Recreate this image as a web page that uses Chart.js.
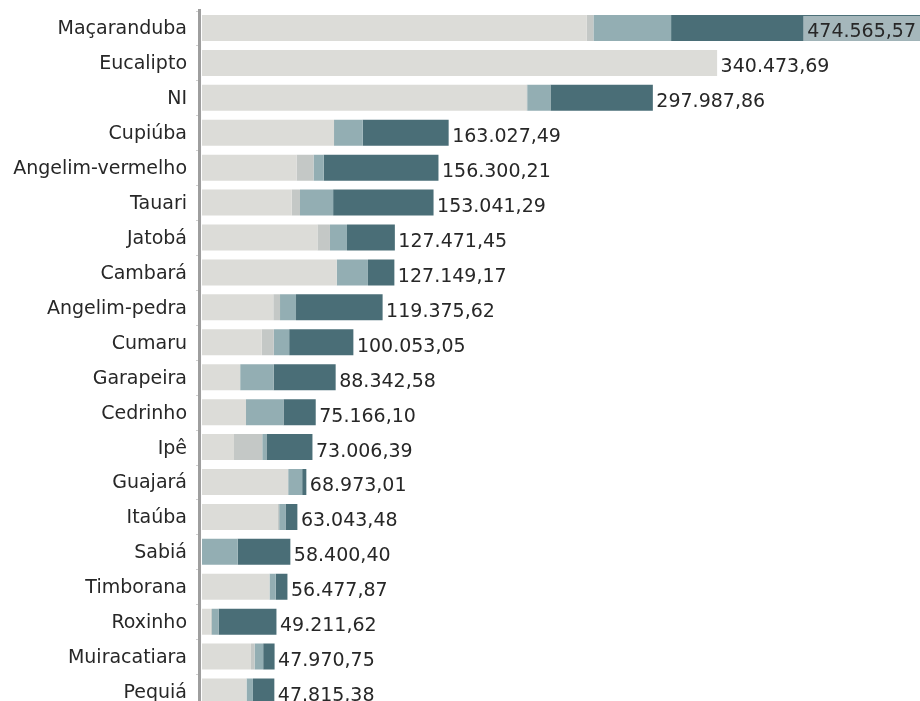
<!DOCTYPE html>
<html>
<head>
<meta charset="utf-8">
<script src="https://cdn.jsdelivr.net/npm/chart.js@4"></script>
<style>
  html, body { margin: 0; padding: 0; background: #fff; overflow: hidden; }
  #wrap { width: 920px; height: 709px; }
</style>
</head>
<body>
<div id="wrap"><canvas id="chart" width="920" height="709"></canvas></div>
<script>
const species = ["Maçaranduba", "Eucalipto", "NI", "Cupiúba", "Angelim-vermelho", "Tauari",
  "Jatobá", "Cambará", "Angelim-pedra", "Cumaru", "Garapeira", "Cedrinho", "Ipê", "Guajará",
  "Itaúba", "Sabiá", "Timborana", "Roxinho", "Muiracatiara", "Pequiá"];

const totals = [474565.57, 340473.69, 297987.86, 163027.49, 156300.21, 153041.29, 127471.45,
  127149.17, 119375.62, 100053.05, 88342.58, 75166.10, 73006.39, 68973.01, 63043.48,
  58400.40, 56477.87, 49211.62, 47970.75, 47815.38];

// four stacked parts
const part1 = [254350, 340474, 214350, 87260, 62520, 59260, 76290, 89070, 47130, 39520,
  25230, 29090, 21155, 56970, 49820, 0, 44610, 5835, 32360, 29425];
const part2 = [4360, 0, 600, 0, 11190, 5510, 8290, 0, 4440, 7930,
  0, 0, 18665, 0, 1180, 0, 0, 700, 2410, 0];
const part3 = [51340, 0, 15350, 18975, 6700, 21900, 11245, 20620, 10570, 10170,
  22120, 24760, 2765, 9240, 4175, 23640, 4120, 4430, 5675, 4245];
const part4 = [164516, 0, 67688, 56792, 75890, 66371, 31646, 17459, 57236, 42433,
  40993, 21316, 30421, 2763, 7868, 34760, 7748, 38247, 7526, 14145];

const colors = ["#dcdcd8", "#c4c8c6", "#93aeb3", "#4a6e77"];
const FONT = "Verdana, 'DejaVu Sans', sans-serif";
const TEXT = "#272727";

function fmt(v) {
  let s = v.toFixed(2).split(".");
  return s[0].replace(/\B(?=(\d{3})+(?!\d))/g, ".") + "," + s[1];
}

// axis line, category names and value labels
const extras = {
  id: "extras",
  afterDatasetsDraw(chart) {
    const ctx = chart.ctx;
    const area = chart.chartArea;
    const xs = chart.scales.x, ys = chart.scales.y;
    ctx.save();
    ctx.fillStyle = "#9e9e9e";
    ctx.fillRect(area.left - 4, 9, 3, chart.height - 9);
    ctx.fillStyle = "#cfcfcf";
    const step = (area.bottom - area.top) / species.length;
    for (let i = 0; i <= species.length; i++) {
      ctx.fillRect(area.left - 6, Math.round(area.top + i * step), 2, 1);
    }
    ctx.font = "19px " + FONT;
    ctx.textBaseline = "alphabetic";
    species.forEach((s, i) => {
      ctx.fillStyle = TEXT;
      ctx.textAlign = "right";
      ctx.fillText(ys.getLabelForValue(i), area.left - 15, ys.getPixelForValue(i) + 6.5);
    });
    totals.forEach((t, i) => {
      const x = xs.getPixelForValue(t);
      const y = ys.getPixelForValue(i);
      const txt = fmt(t);
      const w = ctx.measureText(txt).width;
      if (x + 4 + w > chart.width) {
        ctx.fillStyle = "rgba(255,255,255,0.5)";
        ctx.fillRect(chart.width - w - 8, y - 12, w + 8, 25);
        ctx.fillStyle = TEXT;
        ctx.textAlign = "right";
        ctx.fillText(txt, chart.width - 4, y + 9);
      } else {
        ctx.fillStyle = TEXT;
        ctx.textAlign = "left";
        ctx.fillText(txt, x + 3.5, y + 9.5);
      }
    });
    ctx.restore();
  }
};

new Chart(document.getElementById("chart"), {
  type: "bar",
  data: {
    labels: species,
    datasets: [part1, part2, part3, part4].map((d, k) => ({
      label: "p" + (k + 1),
      data: d,
      backgroundColor: colors[k],
      borderWidth: 0,
      barPercentage: 0.745,
      categoryPercentage: 1
    }))
  },
  options: {
    indexAxis: "y",
    responsive: false,
    animation: false,
    devicePixelRatio: 1,
    layout: { padding: { top: 10.5, bottom: 0, left: 0, right: 0 } },
    plugins: { legend: { display: false }, tooltip: { enabled: false } },
    scales: {
      x: { stacked: true, display: false, min: 0, max: 474566 },
      y: {
        stacked: true,
        grid: { display: false, drawTicks: false },
        border: { display: false },
        ticks: { display: false },
        afterFit(scale) { scale.width = 202; }
      }
    }
  },
  plugins: [extras]
});
</script>
</body>
</html>
